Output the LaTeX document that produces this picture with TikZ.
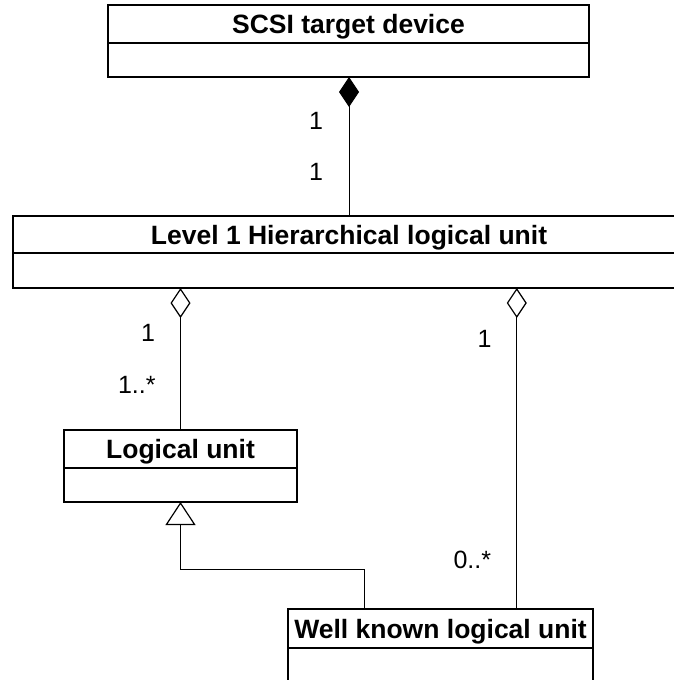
\documentclass[tikz,border=0pt]{standalone}
\usepackage{fontspec}
\setmainfont{Liberation Sans}
\usetikzlibrary{arrows.meta,calc}
\begin{document}
\begin{tikzpicture}[x=1pt,y=-1pt,
  boxline/.style={draw=black, line width=1.4pt, inner sep=0pt, outer sep=0pt},
  head/.style={boxline, font=\fontsize{26.5}{30}\bfseries\selectfont, text height=19pt, text depth=0pt},
  body/.style={boxline},
  conn/.style={draw=black, line width=0.9pt},
  mult/.style={font=\fontsize{25}{28}\selectfont, inner sep=0pt, outer sep=0pt},
  comp/.style={conn, {Diamond[length=30pt,width=20pt,fill=black]}-},
  agg/.style={conn, {Diamond[open,length=30pt,width=20pt,line width=1.2pt]}-},
  gen/.style={conn, -{Triangle[open,length=23pt,width=30pt,line width=1.2pt]}}
]
\useasboundingbox (0,0) rectangle (674,680);
\clip (0,0) rectangle (674,680);

% SCSI target device
\node[head, minimum width=481pt, minimum height=38pt] (scsih) at (348.5,24) {SCSI target device};
\node[body, minimum width=481pt, minimum height=34pt, anchor=north] (scsib) at (scsih.south) {};

% Level 1 Hierarchical logical unit
\node[head, minimum width=672pt, minimum height=37pt] (l1h) at (349,234.5) {Level 1 Hierarchical logical unit};
\node[body, minimum width=672pt, minimum height=35pt, anchor=north] (l1b) at (l1h.south) {};

% Logical unit
\node[head, minimum width=233pt, minimum height=38pt] (luh) at (180.5,449) {Logical unit};
\node[body, minimum width=233pt, minimum height=34pt, anchor=north] (lub) at (luh.south) {};

% Well known logical unit
\node[head, minimum width=305pt, minimum height=39pt] (wkh) at (440.5,628.5) {Well known logical unit};
\node[body, minimum width=305pt, minimum height=40pt, anchor=north] (wkb) at (wkh.south) {};

\coordinate (wkA) at ($(wkh.north west)!0.75!(wkh.north east)$);
\coordinate (wkG) at ($(wkh.north west)!0.25!(wkh.north east)$);

% connectors
\draw[comp] (scsib.south -| l1h.north) -- (l1h.north);
\draw[agg] (l1b.south -| luh.north) -- (luh.north);
\draw[agg] (l1b.south -| wkA) -- (wkA);
\draw[gen] (wkG) -- ++(0,-40) -| (lub.south);

% multiplicities
\node[mult, anchor=base] (m1) at (316,129) {1};
\node[mult, anchor=base] (m2) at (316,180) {1};
\node[mult, anchor=base] (m3) at (148,341) {1};
\node[mult, anchor=base west] (m4) at (118,393) {1..*};
\node[mult, anchor=base] (m5) at (484.5,347) {1};
\node[mult, anchor=base west] (m6) at (453.5,568) {0..*};
\end{tikzpicture}
\end{document}
